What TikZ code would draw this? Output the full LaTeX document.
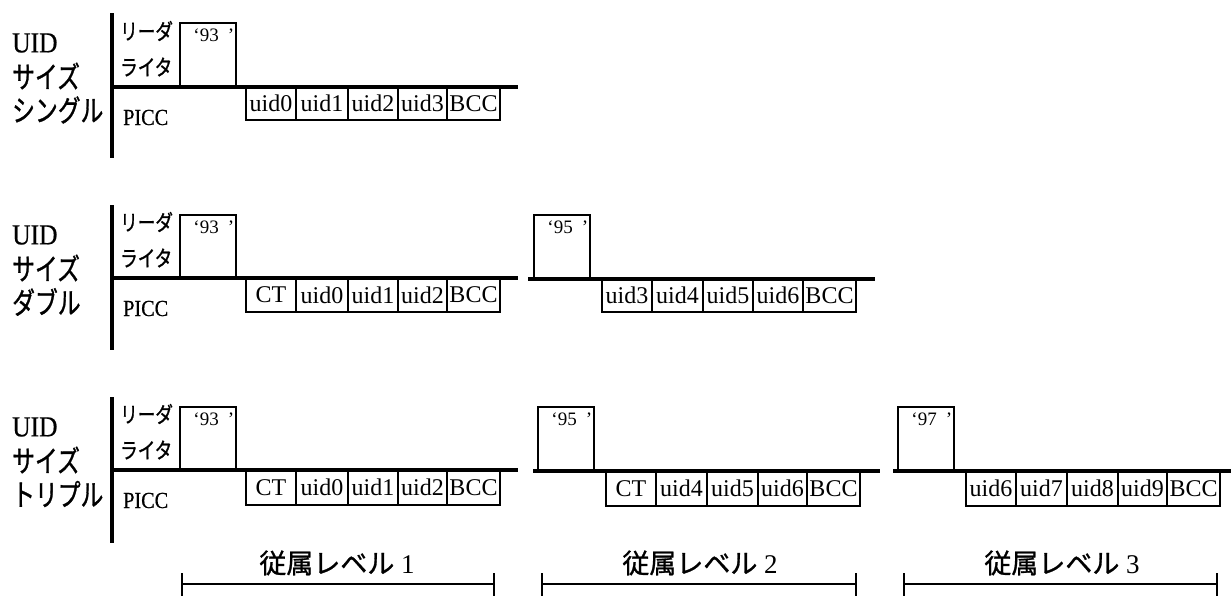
\documentclass[tikz,border=0pt]{standalone}
\usepackage{fontspec}
\setmainfont{Liberation Serif}
\newfontfamily\jp[FakeBold=1]{Noto Sans CJK JP}
\newfontfamily\jpn[FakeStretch=0.76,FakeBold=1]{Noto Sans CJK JP}
\newfontfamily\jps[FakeStretch=0.8,FakeBold=1]{Noto Sans CJK JP}
\newfontfamily\cond[FakeStretch=0.88,FakeBold=0.6]{Liberation Serif}
\newfontfamily\cellfont{Liberation Serif}
\tikzset{
  axisline/.style={line width=3.5pt},
  hline/.style={line width=3.5pt},
  cellbox/.style={draw, line width=1.3pt, inner sep=0pt, font=\cellfont\fontsize{24}{24}\selectfont},
  cmdbox/.style={draw, line width=1.5pt, inner sep=0pt},
  cmdtext/.style={inner sep=0pt, anchor=north west, font=\fontsize{19}{19}\selectfont},
  uidlabel/.style={inner sep=0pt, anchor=west, font=\cond\fontsize{29}{29}\selectfont},
  kindlabel/.style={inner sep=0pt, anchor=west, font=\jpn\fontsize{30}{30}\selectfont},
  rwlabel/.style={inner sep=0pt, anchor=west, font=\jps\fontsize{22}{22}\selectfont},
  picclabel/.style={inner sep=0pt, anchor=west, font=\cond\fontsize{23}{23}\selectfont},
  brk/.style={line width=2pt},
  levellabel/.style={inner sep=0pt, font=\fontsize{27}{27}\selectfont},
}
% cell box: name, x-left, x-right, top, bottom, text
\newcommand\mkbox[6]{\node[cellbox, minimum width={((#3)-(#2))*1pt}, minimum height={((#5)-(#4))*1pt}] (#1) at ({((#2)+(#3))/2},{((#4)+(#5))/2}) {#6};}
% command box: name, x-left, x-right, top, bottom, number
\newcommand\mkcmd[6]{\node[cmdbox, minimum width={((#3)-(#2))*1pt}, minimum height={((#5)-(#4))*1pt}] (#1) at ({((#2)+(#3))/2},{((#4)+(#5))/2}) {};
  \node[cmdtext] (#1t) at ([xshift=14pt,yshift=-6pt]#1.north west) {‘#6\hspace{9pt}’};}
% row head: prefix, lineY, axis top, axis bottom, kind text
\newcommand\rowhead[5]{%
  \coordinate (#1axT) at (112,#3); \coordinate (#1axB) at (112,#4);
  \draw[axisline] (#1axT) -- (#1axB);
  \coordinate (#1hl) at (112,#2); \coordinate (#1hr) at (518,#2);
  \node[uidlabel] (#1uid) at (12,{#3+30}) {UID};
  \node[kindlabel] (#1size) at (12,{#3+63}) {サイズ};
  \node[kindlabel] (#1kind) at (12,{#3+97}) {#5};
  \node[rwlabel] (#1rw1) at (120,{#2-56}) {リーダ};
  \node[rwlabel] (#1rw2) at (120,{#2-20}) {ライタ};
  \node[picclabel] (#1picc) at (123,{#2+30.5}) {PICC};
  \mkcmd{#1c1}{180}{236}{#3+10}{#2}{93}}
\newcommand\CTtext{CT\hspace{10pt}}
\newcommand\shl[1]{#1\hspace{7pt}}
\begin{document}
\begin{tikzpicture}[x=1pt,y=-1pt]
\useasboundingbox (0,0) rectangle (1231,595);

% ---------- Row 1: single ----------
\rowhead{a}{87}{13}{158}{シングル}
\mkbox{a1}{246}{296}{87}{120}{uid0}
\mkbox{a2}{296}{348}{87}{120}{uid1}
\mkbox{a3}{348}{398}{87}{120}{uid2}
\mkbox{a4}{398}{447}{87}{120}{uid3}
\mkbox{a5}{447}{500}{87}{120}{BCC}
\draw[hline] (ahl) -- (ahr);

% ---------- Row 2: double ----------
\rowhead{b}{278}{205}{350}{ダブル}
\mkbox{b1}{246}{296}{278}{312}{\CTtext}
\mkbox{b2}{296}{348}{278}{312}{\shl{uid0}}
\mkbox{b3}{348}{398}{278}{312}{\shl{uid1}}
\mkbox{b4}{398}{447}{278}{312}{\shl{uid2}}
\mkbox{b5}{447}{500}{278}{312}{BCC}
\draw[hline] (bhl) -- (bhr);
\coordinate (bhl2) at (528,279); \coordinate (bhr2) at (875,279);
\mkcmd{bc2}{534}{590}{215}{279}{95}
\mkbox{b6}{602}{652}{279}{312}{uid3}
\mkbox{b7}{652}{703}{279}{312}{uid4}
\mkbox{b8}{703}{753}{279}{312}{uid5}
\mkbox{b9}{753}{803}{279}{312}{uid6}
\mkbox{b10}{803}{856}{279}{312}{BCC}
\draw[hline] (bhl2) -- (bhr2);

% ---------- Row 3: triple ----------
\rowhead{c}{470}{397}{543}{トリプル}
\mkbox{c1}{246}{296}{470}{505}{\CTtext}
\mkbox{c2}{296}{348}{470}{505}{\shl{uid0}}
\mkbox{c3}{348}{398}{470}{505}{\shl{uid1}}
\mkbox{c4}{398}{447}{470}{505}{\shl{uid2}}
\mkbox{c5}{447}{500}{470}{505}{BCC}
\draw[hline] (chl) -- (chr);
\coordinate (chl2) at (533,471); \coordinate (chr2) at (880,471);
\mkcmd{cc2}{538}{594}{407}{471}{95}
\mkbox{c6}{606}{656}{471}{506}{\CTtext}
\mkbox{c7}{656}{707}{471}{506}{\shl{uid4}}
\mkbox{c8}{707}{758}{471}{506}{\shl{uid5}}
\mkbox{c9}{758}{807}{471}{506}{\shl{uid6}}
\mkbox{c10}{807}{860}{471}{506}{BCC}
\draw[hline] (chl2) -- (chr2);
\coordinate (chl3) at (893,471); \coordinate (chr3) at (1231,471);
\mkcmd{cc3}{898}{954}{407}{471}{97}
\mkbox{c11}{966}{1016}{471}{506}{uid6}
\mkbox{c12}{1016}{1067}{471}{506}{uid7}
\mkbox{c13}{1067}{1118}{471}{506}{uid8}
\mkbox{c14}{1118}{1167}{471}{506}{uid9}
\mkbox{c15}{1167}{1220}{471}{506}{BCC}
\draw[hline] (chl3) -- (chr3);

% ---------- Cascade level brackets ----------
\foreach \n/\xl/\xr/\xc/\lv in {1/182/494/337/1, 2/542/856/700/2, 3/904/1217/1062/3}{
  \coordinate (bk\n l) at (\xl,584);
  \coordinate (bk\n r) at (\xr,584);
  \draw[brk] (bk\n l) -- (bk\n r);
  \draw[brk] ([yshift=11pt]bk\n l) -- ([yshift=-12pt]bk\n l);
  \draw[brk] ([yshift=11pt]bk\n r) -- ([yshift=-12pt]bk\n r);
  \node[levellabel] (lv\n) at (\xc,563) {{\jp 従属レベル} \lv};
}
\end{tikzpicture}
\end{document}
